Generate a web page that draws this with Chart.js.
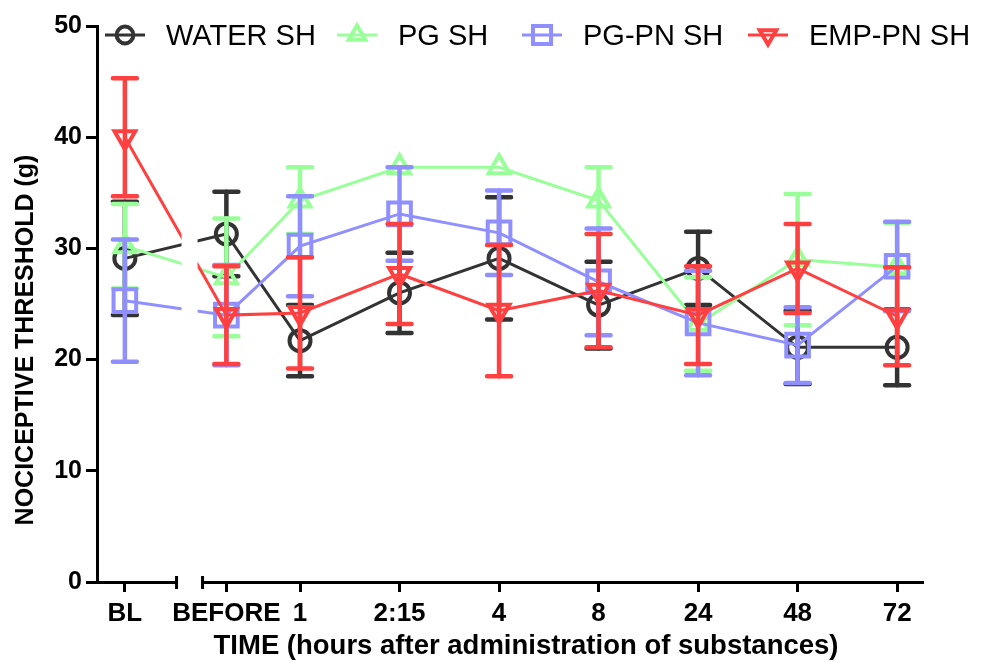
<!DOCTYPE html>
<html>
<head>
<meta charset="utf-8">
<title>Nociceptive threshold</title>
<script src="https://cdn.jsdelivr.net/npm/chart.js@4/dist/chart.umd.min.js"></script>
<style>
  body { margin: 0; background: #fff; }
  canvas { display: block; }
</style>
</head>
<body>
<canvas id="chart" width="981" height="664"></canvas>
<script>
// time points (x axis)
const categories = ['BL', 'BEFORE', '1', '2:15', '4', '8', '24', '48', '72'];
// where each time point sits on the axis (BL / BEFORE are set apart by the break)
const xSlots = [0, 1.02, 1.76, 2.76, 3.76, 4.76, 5.76, 6.76, 7.76];

// means (g)
const waterSh = [29.1, 31.3, 21.7, 26.0, 29.1, 24.9, 28.2, 21.1, 21.1];
const pgSh    = [30.2, 27.4, 34.3, 37.3, 37.3, 34.3, 23.2, 29.0, 28.3];
const pgPnSh  = [25.3, 24.0, 30.2, 33.1, 31.4, 27.0, 23.3, 21.3, 28.4];
const empPnSh = [40.0, 24.0, 24.2, 27.7, 24.4, 26.2, 24.0, 28.2, 23.9];

// error bars (+/-)
const waterShErr = [5.1, 3.8, 3.2, 3.6, 5.5, 3.9, 3.3, 3.3, 3.4];
const pgShErr    = [3.8, 5.3, 3.0, 0, 0, 3.0, 4.2, 5.9, 4.0];
const pgPnShErr  = [5.5, 4.5, 4.5, 4.2, 3.8, 4.8, 4.7, 3.4, 4.0];
const empPnShErr = [5.3, 4.4, 5.0, 4.5, 5.9, 5.1, 4.4, 4.0, 4.4];

const yTicks = [0, 10, 20, 30, 40, 50];

const FONT = "'Liberation Sans', Arial, sans-serif";
Chart.defaults.font.family = FONT;

const toPoints = vals => vals.map((v, i) => ({ x: xSlots[i], y: v }));

function series(label, vals, errs, color, style, radius, rotation, order) {
  return {
    label: label,
    data: toPoints(vals),
    errors: errs,
    borderColor: color,
    backgroundColor: 'rgba(0,0,0,0)',
    borderWidth: 3,
    pointStyle: style,
    pointRadius: radius,
    pointRotation: rotation,
    pointBorderWidth: 4,
    pointBorderColor: color,
    pointBackgroundColor: 'rgba(0,0,0,0)',
    legendRadius: radius * 0.8,
    tension: 0,
    clip: false,
    order: order
  };
}

// error bars drawn under each series' own line
const errorBars = {
  id: 'errorBars',
  beforeDatasetDraw(chart, args) {
    const ds = chart.data.datasets[args.index];
    const y = chart.scales.y;
    const ctx = chart.ctx;
    ctx.save();
    ctx.strokeStyle = ds.borderColor;
    ctx.lineCap = 'round';
    args.meta.data.forEach((pt, i) => {
      const e = ds.errors[i];
      if (!e) return;
      const top = y.getPixelForValue(ds.data[i].y + e);
      const bot = y.getPixelForValue(ds.data[i].y - e);
      ctx.lineWidth = 4.5;
      ctx.beginPath();
      ctx.moveTo(pt.x, top);
      ctx.lineTo(pt.x, bot);
      ctx.stroke();
      ctx.lineWidth = 4.5;
      ctx.beginPath();
      ctx.moveTo(pt.x - 12, top);
      ctx.lineTo(pt.x + 12, top);
      ctx.moveTo(pt.x - 12, bot);
      ctx.lineTo(pt.x + 12, bot);
      ctx.stroke();
    });
    ctx.restore();
  }
};

// axis break between BL and BEFORE
const axisBreak = {
  id: 'axisBreak',
  afterDatasetsDraw(chart, args, opts) {
    const ctx = chart.ctx;
    const area = chart.chartArea;
    const bx = chart.scales.x.getPixelForValue(opts.at);
    ctx.save();
    ctx.fillStyle = '#fff';
    ctx.fillRect(bx - 8, 0, 16, area.bottom - 3);
    ctx.fillRect(bx - 12, area.bottom - 4, 24, 9);
    ctx.strokeStyle = '#000';
    ctx.lineWidth = 3;
    ctx.beginPath();
    ctx.moveTo(bx - 13, area.bottom - 6);
    ctx.lineTo(bx - 13, area.bottom + 7);
    ctx.moveTo(bx + 13, area.bottom - 6);
    ctx.lineTo(bx + 13, area.bottom + 7);
    ctx.stroke();
    ctx.restore();
  }
};

// legend in one row: line + symbol + name
const lineLegend = {
  id: 'lineLegend',
  afterDraw(chart, args, opts) {
    const ctx = chart.ctx;
    ctx.save();
    chart.data.datasets.forEach((ds, i) => {
      const x0 = opts.x[i];
      const y0 = opts.y;
      ctx.strokeStyle = ds.borderColor;
      ctx.lineWidth = 3;
      ctx.beginPath();
      ctx.moveTo(x0, y0);
      ctx.lineTo(x0 + 40, y0);
      ctx.stroke();
      ctx.fillStyle = 'rgba(0,0,0,0)';
      ctx.lineWidth = 4;
      Chart.helpers.drawPoint(ctx, {
        pointStyle: ds.pointStyle,
        rotation: ds.pointRotation,
        radius: ds.legendRadius,
        borderWidth: 4
      }, x0 + 20, y0);
      ctx.fillStyle = '#000';
      ctx.font = '29px ' + FONT;
      ctx.textBaseline = 'alphabetic';
      ctx.fillText(ds.label, x0 + 61, y0 + 10);
    });
    ctx.restore();
  }
};

const axisTitles = {
  id: 'axisTitles',
  afterDraw(chart) {
    const ctx = chart.ctx;
    ctx.save();
    ctx.fillStyle = '#000';
    ctx.textAlign = 'center';
    ctx.textBaseline = 'middle';
    ctx.font = 'bold 27.5px ' + FONT;
    ctx.fillText('TIME (hours after administration of substances)', 526, 646);
    ctx.translate(26, 340);
    ctx.rotate(-Math.PI / 2);
    ctx.font = 'bold 25px ' + FONT;
    ctx.fillText('NOCICEPTIVE THRESHOLD (g)', 0, 0);
    ctx.restore();
  }
};

new Chart(document.getElementById('chart'), {
  type: 'line',
  data: {
    datasets: [
      series('WATER SH', waterSh, waterShErr, '#333333', 'circle', 10.5, 0, 4),
      series('PG SH', pgSh, pgShErr, '#99ff99', 'triangle', 12, 0, 3),
      series('PG-PN SH', pgPnSh, pgPnShErr, '#8f8fff', 'rect', 16, 0, 2),
      series('EMP-PN SH', empPnSh, empPnShErr, '#ff4040', 'triangle', 12, 180, 1)
    ]
  },
  options: {
    responsive: false,
    animation: false,
    events: [],
    layout: { autoPadding: false, padding: { left: 0, right: 58, top: 26, bottom: 0 } },
    plugins: {
      legend: { display: false },
      tooltip: { enabled: false },
      axisBreak: { at: 0.65 },
      lineLegend: { x: [105, 337, 522, 748], y: 35 }
    },
    scales: {
      x: {
        type: 'linear',
        bounds: 'data',
        min: -0.28,
        max: 8.02,
        afterBuildTicks: s => { s.ticks = xSlots.map(v => ({ value: v })); },
        afterFit: s => { s.height = 82; },
        ticks: {
          autoSkip: false,
          maxRotation: 0,
          color: '#000',
          padding: 6,
          font: { size: 26, weight: 'bold' },
          callback: (v, i) => categories[i]
        },
        grid: { drawOnChartArea: false, tickLength: 10, tickWidth: 3, tickColor: '#000' },
        border: { color: '#000', width: 3 }
      },
      y: {
        min: 0,
        max: 50,
        afterBuildTicks: s => { s.ticks = yTicks.map(v => ({ value: v })); },
        afterFit: s => { s.width = 97; },
        ticks: {
          color: '#000',
          padding: 4,
          font: { size: 25, weight: 'bold' }
        },
        grid: { drawOnChartArea: false, tickLength: 11, tickWidth: 3, tickColor: '#000' },
        border: { color: '#000', width: 3 }
      }
    }
  },
  plugins: [errorBars, axisBreak, lineLegend, axisTitles]
});
</script>
</body>
</html>
